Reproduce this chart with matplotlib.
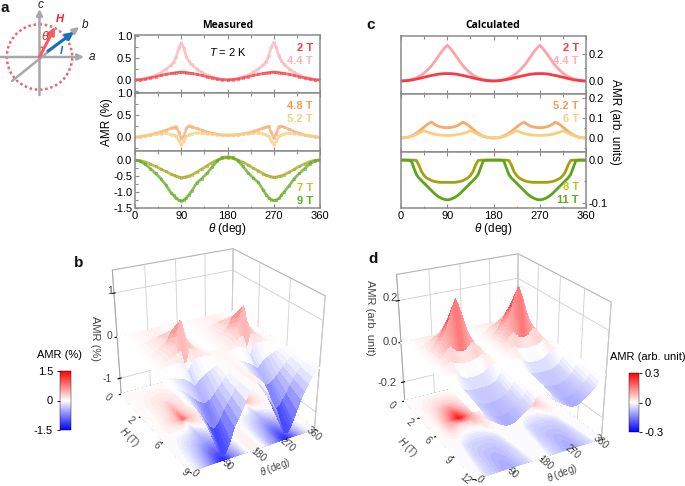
import numpy as np
import matplotlib
matplotlib.use("Agg")
import matplotlib.pyplot as plt
from matplotlib.patches import Circle, Arc
from matplotlib.cm import ScalarMappable
from matplotlib.colors import Normalize
from mpl_toolkits.mplot3d import Axes3D

plt.rcParams['font.family'] = ['Liberation Sans', 'DejaVu Sans']
plt.rcParams['mathtext.fontset'] = 'custom'
plt.rcParams['mathtext.rm'] = 'Liberation Sans'
plt.rcParams['mathtext.it'] = 'Liberation Sans:italic'
plt.rcParams['grid.color'] = '#cfcfcf'
plt.rcParams['grid.linewidth'] = 0.6

# measured curves
theta_m = [0,10,20,30,40,50,60,70,75,80,85,90,95,100,105,110,120,130,140,150,160,170,180,
           190,200,210,220,230,240,250,255,260,265,270,275,280,285,290,300,310,320,330,340,350,360]
m_2T = [0,.005,.02,.045,.07,.10,.125,.145,.155,.165,.17,.175,.17,.165,.155,.145,.125,.10,.07,.045,.02,.005,0,
        .005,.02,.045,.07,.10,.125,.145,.155,.165,.17,.175,.17,.165,.155,.145,.125,.10,.07,.045,.02,.005,0]
m_33T = [0,.003,.02,.04,.07,.11,.15,.21,.25,.31,.40,.46,.40,.31,.25,.22,.16,.11,.07,.04,.02,.005,0,
         .005,.02,.04,.07,.11,.16,.22,.26,.32,.41,.47,.41,.32,.26,.22,.16,.11,.07,.04,.02,.005,0]
m_44T = [-.01,0,.03,.06,.10,.16,.24,.33,.40,.52,.72,.84,.72,.52,.42,.35,.25,.17,.11,.07,.03,.01,0,
         .01,.03,.07,.11,.17,.25,.34,.41,.54,.74,.85,.74,.54,.43,.35,.25,.17,.11,.06,.03,0,-.01]
m_48T = [0,.015,.035,.06,.09,.12,.16,.20,.22,.24,.12,-.03,.03,.20,.26,.24,.20,.16,.12,.09,.07,.05,.05,
         .05,.06,.08,.10,.13,.17,.21,.23,.25,.12,-.02,.08,.24,.25,.23,.18,.13,.09,.05,.03,.01,0]
m_52T = [0,.02,.04,.06,.07,.085,.09,.06,.05,.02,-.08,-.17,-.09,.02,.06,.08,.10,.09,.08,.07,.06,.05,.05,
         .05,.06,.07,.08,.09,.10,.08,.06,.02,-.08,-.17,-.09,.02,.06,.08,.09,.08,.07,.05,.04,.02,0]
m_6T = [0,-.005,-.01,-.04,-.07,-.10,-.13,-.19,-.22,-.26,-.31,-.36,-.31,-.26,-.23,-.20,-.14,-.09,-.05,-.01,.02,.05,.06,
        .05,.02,-.01,-.05,-.09,-.14,-.19,-.22,-.26,-.31,-.36,-.31,-.26,-.22,-.19,-.13,-.09,-.06,-.03,-.01,-.005,0]
m_7T = [0,-.02,-.06,-.13,-.20,-.28,-.36,-.44,-.47,-.50,-.53,-.55,-.54,-.52,-.50,-.47,-.38,-.28,-.18,-.08,0,.05,.07,
        .05,0,-.07,-.16,-.25,-.34,-.43,-.47,-.50,-.52,-.54,-.53,-.51,-.49,-.46,-.38,-.29,-.20,-.12,-.05,-.01,0]
m_8T = [0,-.03,-.10,-.20,-.31,-.43,-.57,-.73,-.79,-.85,-.89,-.92,-.90,-.85,-.79,-.72,-.55,-.43,-.30,-.15,-.02,.07,.09,
        .07,-.01,-.13,-.28,-.40,-.52,-.69,-.77,-.84,-.88,-.90,-.89,-.85,-.79,-.73,-.59,-.44,-.31,-.20,-.09,-.02,0]
m_9T = [0,-.04,-.14,-.27,-.42,-.58,-.78,-1.02,-1.10,-1.19,-1.25,-1.28,-1.25,-1.18,-1.08,-.98,-.72,-.58,-.42,-.22,-.03,.08,.10,
        .08,-.02,-.20,-.40,-.56,-.70,-.95,-1.08,-1.18,-1.24,-1.26,-1.25,-1.20,-1.10,-1.00,-.80,-.58,-.42,-.27,-.12,-.03,0]
m_0T = [0]*45
fields_b = [0,2,3.3,4.4,4.8,5.2,6,7,8,9]

# calculated curves, every 5 deg
theta_c = [i*5 for i in range(73)]
c_0T = [0]*73
c_2T = [0,0,.002,.004,.006,.010,.014,.018,.023,.028,.032,.037,.041,.045,.049,.052,.054,.055,.055,
        .055,.054,.052,.049,.045,.041,.037,.032,.028,.023,.018,.014,.010,.006,.004,.002,0,0,
        0,.002,.004,.006,.010,.014,.018,.023,.028,.032,.037,.041,.045,.049,.052,.054,.055,.055,
        .055,.054,.052,.049,.045,.041,.037,.032,.028,.023,.018,.014,.010,.006,.004,.002,0,0]
c_32T = [0,.001,.002,.004,.008,.012,.018,.025,.033,.042,.052,.063,.075,.088,.102,.117,.131,.143,.152,
         .143,.131,.117,.102,.088,.075,.063,.052,.042,.033,.025,.018,.012,.008,.004,.002,.001,0,
         .001,.002,.004,.008,.012,.018,.025,.033,.042,.052,.063,.075,.088,.102,.117,.131,.143,.152,
         .143,.131,.117,.102,.088,.075,.063,.052,.042,.033,.025,.018,.012,.008,.004,.002,.001,0]
c_44T = [0,.001,.003,.006,.010,.016,.024,.033,.045,.059,.076,.095,.117,.142,.170,.198,.224,.248,.268,
         .248,.224,.198,.170,.142,.117,.095,.076,.059,.045,.033,.024,.016,.010,.006,.003,.001,0,
         .001,.003,.006,.010,.016,.024,.033,.045,.059,.076,.095,.117,.142,.170,.198,.224,.248,.268,
         .248,.224,.198,.170,.142,.117,.095,.076,.059,.045,.033,.024,.016,.010,.006,.003,.001,0]
c_52T = [0,.001,.002,.005,.010,.016,.024,.033,.044,.055,.065,.074,.079,.069,.062,.057,.054,.052,.052,
         .052,.054,.057,.062,.069,.079,.074,.065,.055,.044,.033,.024,.016,.010,.005,.002,.001,0,
         .001,.002,.005,.010,.016,.024,.033,.044,.055,.065,.074,.079,.069,.062,.057,.054,.052,.052,
         .052,.054,.057,.062,.069,.079,.074,.065,.055,.044,.033,.024,.016,.010,.005,.002,.001,0]
c_6T = [0,.001,.002,.004,.008,.012,.018,.024,.030,.036,.031,.026,.022,.019,.017,.015,.014,.013,.013,
        .013,.014,.015,.017,.019,.022,.026,.031,.036,.030,.024,.018,.012,.008,.004,.002,.001,0,
        .001,.002,.004,.008,.012,.018,.024,.030,.036,.031,.026,.022,.019,.017,.015,.014,.013,.013,
        .013,.014,.015,.017,.019,.022,.026,.031,.036,.030,.024,.018,.012,.008,.004,.002,.001,0]
c_7T = [0,0,.001,.002,.003,.005,.007,.009,.010,.006,-.002,-.010,-.016,-.020,-.023,-.025,-.026,-.027,-.027,
        -.027,-.026,-.025,-.023,-.020,-.016,-.010,-.002,.006,.010,.009,.007,.005,.003,.002,.001,0,0,
        0,.001,.002,.003,.005,.007,.009,.010,.006,-.002,-.010,-.016,-.020,-.023,-.025,-.026,-.027,-.027,
        -.027,-.026,-.025,-.023,-.020,-.016,-.010,-.002,.006,.010,.009,.007,.005,.003,.002,.001,0,0]
c_8T = [0,0,0,0,0,0,-.001,-.012,-.027,-.036,-.042,-.045,-.048,-.050,-.051,-.052,-.052,-.052,-.052,
        -.052,-.052,-.052,-.051,-.050,-.048,-.045,-.042,-.036,-.027,-.012,-.001,0,0,0,0,0,0,
        0,0,0,0,0,-.001,-.012,-.027,-.036,-.042,-.045,-.048,-.050,-.051,-.052,-.052,-.052,-.052,
        -.052,-.052,-.052,-.051,-.050,-.048,-.045,-.042,-.036,-.027,-.012,-.001,0,0,0,0,0,0]
c_95T = [0,0,0,0,0,-.002,-.020,-.036,-.045,-.052,-.058,-.062,-.066,-.070,-.073,-.075,-.076,-.077,-.077,
         -.077,-.076,-.075,-.073,-.070,-.066,-.062,-.058,-.052,-.045,-.036,-.020,-.002,0,0,0,0,0,
         0,0,0,0,-.002,-.020,-.036,-.045,-.052,-.058,-.062,-.066,-.070,-.073,-.075,-.076,-.077,-.077,
         -.077,-.076,-.075,-.073,-.070,-.066,-.062,-.058,-.052,-.045,-.036,-.020,-.002,0,0,0,0,0]
c_11T = [0,0,0,0,-.002,-.018,-.034,-.042,-.048,-.054,-.060,-.066,-.072,-.078,-.083,-.087,-.090,-.092,-.093,
         -.092,-.090,-.087,-.083,-.078,-.072,-.066,-.060,-.054,-.048,-.042,-.034,-.018,-.002,0,0,0,0,
         0,0,0,-.002,-.018,-.034,-.042,-.048,-.054,-.060,-.066,-.072,-.078,-.083,-.087,-.090,-.092,-.093,
         -.092,-.090,-.087,-.083,-.078,-.072,-.066,-.060,-.054,-.048,-.042,-.034,-.018,-.002,0,0,0,0]
c_12T = [0,0,0,-.001,-.012,-.030,-.040,-.047,-.053,-.059,-.065,-.071,-.077,-.083,-.088,-.093,-.097,-.099,-.100,
         -.099,-.097,-.093,-.088,-.083,-.077,-.071,-.065,-.059,-.053,-.047,-.040,-.030,-.012,-.001,0,0,0,
         0,0,-.001,-.012,-.030,-.040,-.047,-.053,-.059,-.065,-.071,-.077,-.083,-.088,-.093,-.097,-.099,-.100,
         -.099,-.097,-.093,-.088,-.083,-.077,-.071,-.065,-.059,-.053,-.047,-.040,-.030,-.012,-.001,0,0,0]
fields_d = [0,2,3.2,4.4,5.2,6,7,8,9.5,11,12]

theta_ticks = [0,90,180,270,360]
theta_minor = [45,135,225,315]

def rect(l, t, r, b):
    return [l/685, 1-b/486, (r-l)/685, (b-t)/486]

def style(ax, ylim, yticks, labels, yminor, right=False, bottom=False):
    ax.set_xlim(0, 360)
    ax.set_ylim(*ylim)
    ax.set_xticks(theta_ticks)
    ax.set_xticks(theta_minor, minor=True)
    ax.set_yticks(yticks)
    ax.set_yticks(yminor, minor=True)
    ax.set_yticklabels(labels)
    ax.tick_params(which='both', direction='in', width=0.8, color='#8a8a8a', labelsize=8, pad=2,
                   labelbottom=bottom, right=right, left=not right, labelleft=not right, labelright=right, top=True)
    ax.tick_params(which='major', length=3)
    ax.tick_params(which='minor', length=1.8)
    for s in ax.spines.values():
        s.set_color('#8a8a8a')
        s.set_linewidth(1.1)
    if bottom:
        ax.set_xlabel(r'$\theta$ (deg)', fontsize=8.5, labelpad=0)

def meas(ax, y, col):
    ax.plot(theta_m, y, '-', color=col, lw=2.0, alpha=0.75)
    ax.plot(theta_m, y, 's', color=col, ms=1.7, mfc='none', mew=0.4)

fig = plt.figure(figsize=(6.85, 4.86), dpi=100)

# measured panels
a1 = fig.add_axes(rect(135, 35, 320, 93))
meas(a1, m_44T, '#fdb4b4')
meas(a1, m_2T, '#f8404a')
style(a1, (-0.3, 1.02), [0, .5, 1], ['0.0', '0.5', '1.0'], [-.25, .25, .75])
a2 = fig.add_axes(rect(135, 93, 320, 151))
meas(a2, m_48T, '#f5ad70')
meas(a2, m_52T, '#f8d088')
style(a2, (-0.31, 1.0), [0, .5, 1], ['0.0', '0.5', '1.0'], [-.25, .25, .75])
a3 = fig.add_axes(rect(135, 151, 320, 208))
meas(a3, m_7T, '#a8a820')
meas(a3, m_9T, '#62aa24')
style(a3, (-1.5, 0.28), [-1.5, -1, -.5, 0], ['-1.5', '-1.0', '-0.5', '0.0'], [-1.25, -.75, -.25], bottom=True)

# calculated panels
c1 = fig.add_axes(rect(401, 36, 586, 94))
c1.plot(theta_c, c_44T, color='#fda4a6', lw=2)
c1.plot(theta_c, c_2T, color='#f83a44', lw=2)
style(c1, (-0.098, 0.337), [0, .2], ['0.0', '0.2'], [.1], right=True)
c2 = fig.add_axes(rect(401, 94, 586, 152))
c2.plot(theta_c, c_52T, color='#f5ab6c', lw=2)
c2.plot(theta_c, c_6T, color='#f6cf80', lw=2)
style(c2, (-0.07, 0.22), [0, .1, .2], ['0.0', '0.1', '0.2'], [-.05, .05, .15], right=True)
c3 = fig.add_axes(rect(401, 152, 586, 208))
c3.plot(theta_c, c_8T, color='#a4a010', lw=2)
c3.plot(theta_c, c_11T, color='#5aa61a', lw=2)
style(c3, (-0.112, 0.019), [-.1, 0], ['-0.1', '0.0'], [-.05], right=True, bottom=True)

# 3d surfaces
def surf(pos, th, fields, rows, zlim, zticks, hticks, vmax, view, aspect):
    ax = fig.add_axes(pos, projection='3d', computed_zorder=False)
    ax.patch.set_alpha(0)
    T, H = np.meshgrid(th, fields)
    Z = np.array(rows)
    ax.contourf(T, H, Z, levels=np.linspace(-vmax, vmax, 61), cmap='bwr', zdir='z', offset=zlim[0], zorder=1)
    ax.plot_surface(T, H, Z, cmap='bwr', vmin=-vmax, vmax=vmax, rstride=1, cstride=1, linewidth=0,
                    antialiased=False, shade=False, zorder=2)
    ax.set_xlim(0, 360)
    ax.set_ylim(max(fields), 0)
    ax.set_zlim(*zlim)
    ax.set_xticks(theta_ticks)
    ax.set_yticks(hticks)
    ax.set_zticks(zticks)
    ax.set_xticklabels([])
    ax.set_yticklabels([])
    ax.set_zticklabels([])
    ax.view_init(elev=view[1], azim=view[0])
    ax.set_box_aspect(aspect, zoom=view[3])
    ax.set_proj_type('persp', focal_length=view[2])
    for ax_ in (ax.xaxis, ax.yaxis, ax.zaxis):
        ax_.set_pane_color((1, 1, 1, 1))
        ax_.pane.set_edgecolor('#b4b4b4')
        ax_.pane.set_linewidth(0.8)
        ax_.line.set_color('#a8a8a8')
        ax_.line.set_linewidth(0.8)
        for t in ax_.get_major_ticks():
            t.tick1line.set_visible(False)
            t.tick2line.set_visible(False)
    return ax

rows_b = [m_0T, m_2T, m_33T, m_44T, m_48T, m_52T, m_6T, m_7T, m_8T, m_9T]
rows_d = [c_0T, c_2T, c_32T, c_44T, c_52T, c_6T, c_7T, c_8T, c_95T, c_11T, c_12T]
surf(rect(80, 223.1, 340, 483.1), theta_m, fields_b, rows_b, (-1.4, 1.5), [-1, 0, 1], [0, 3, 6, 9], 1.5,
     (-119.74, 26.3, 0.47, 0.96), (136.58, 155.34, 138.28))
surf(rect(365, 229.6, 625, 489.6), theta_c, fields_d, rows_d, (-0.3, 0.32), [-.2, 0, .2], [0, 3, 6, 9, 12], 0.3,
     (-119.07, 25.49, 0.51, 0.98), (136.46, 160.25, 139.79))

# colorbars
cb1 = fig.add_axes(rect(60, 371, 71, 430))
cb = fig.colorbar(ScalarMappable(Normalize(-1.5, 1.5), 'bwr'), cax=cb1, ticks=[-1.5, 0, 1.5])
cb.ax.set_yticklabels(['-1.5', '0', '1.5'])
cb.ax.yaxis.set_ticks_position('left')
cb.ax.tick_params(labelsize=8, length=2, width=0.6, pad=3)
cb.outline.set_linewidth(0.3)
cb2 = fig.add_axes(rect(629, 373, 639, 432))
cb = fig.colorbar(ScalarMappable(Normalize(-0.3, 0.3), 'bwr'), cax=cb2, ticks=[-.3, 0, .3])
cb.ax.set_yticklabels(['-0.3', '0', '0.3'])
cb.ax.tick_params(labelsize=8, length=2, width=0.6, pad=2)
cb.outline.set_linewidth(0.3)

# pixel overlay for schematic and text
ov = fig.add_axes([0, 0, 1, 1], zorder=10)
ov.set_xlim(0, 685)
ov.set_ylim(486, 0)
ov.axis('off')

ov.add_patch(Circle((39.5, 57), 32.7, fill=False, ec='#f2606a', lw=1.8, ls=(0, (1, 1.1))))
for p0, p1 in [((39.5, 95), (39.5, 9)), ((0, 57), (84, 57)), ((12, 81), (79, 27))]:
    ov.annotate('', xy=p1, xytext=p0, arrowprops=dict(arrowstyle='-|>', color='#a8a8a8', lw=1.8, shrinkA=0, shrinkB=0, mutation_scale=9))
ov.annotate('', xy=(74, 32), xytext=(48, 51), arrowprops=dict(arrowstyle='-|>', color='#1470c0', lw=2.2, shrinkA=0, shrinkB=0, mutation_scale=10))
ov.annotate('', xy=(55, 27), xytext=(39.5, 57), arrowprops=dict(arrowstyle='-|>', color='#f85a64', lw=2.2, shrinkA=0, shrinkB=0, mutation_scale=10))
ov.add_patch(Arc((39.5, 57), 20, 20, theta1=-90, theta2=-62, color='#f04050', lw=1))

def txt(x, y, s, **kw):
    kw.setdefault('ha', 'center')
    kw.setdefault('va', 'center')
    kw.setdefault('fontsize', 8)
    ov.text(x, y, s, **kw)

txt(41, 5, 'c', style='italic', color='#222222', fontsize=8.5)
txt(92, 57, 'a', style='italic', color='#222222', fontsize=8.5)
txt(85, 25, 'b', style='italic', color='#222222', fontsize=8.5)
txt(60, 19, 'H', style='italic', weight='bold', color='#f02030', fontsize=8)
txt(61.5, 51, 'I', style='italic', weight='bold', color='#1470c0', fontsize=8)
txt(45, 37, r'$\theta$', color='#f02030', fontsize=9)

for x, y, s in [(4.5, 7.5, 'a'), (79, 263, 'b'), (371, 25, 'c'), (373, 259, 'd')]:
    txt(x, y, s, weight='bold', fontsize=11, color='#111111')
txt(228, 25, 'Measured', family='Open Sans', weight='bold', fontsize=7.5)
txt(493, 26, 'Calculated', family='Open Sans', weight='bold', fontsize=7.5)
txt(228, 52, r'$T$ = 2 K', fontsize=8)
txt(107, 122, 'AMR (%)', rotation=90, fontsize=8.5)
txt(615, 122, 'AMR (arb. units)', rotation=-90, fontsize=8.5)

for y, s, col in [(48, '2 T', '#f83a44'), (61, '4.4 T', '#fdb4b4'), (106, '4.8 T', '#f2a050'),
                  (119, '5.2 T', '#f8cc88'), (188, '7 T', '#c8c020'), (201, '9 T', '#58b020')]:
    txt(313, y, s, ha='right', weight='bold', color=col)
for y, s, col in [(48, '2 T', '#f83a44'), (61, '4.4 T', '#fdb4b4'), (106, '5.2 T', '#f2a050'),
                  (119, '6 T', '#f8cc88'), (187, '8 T', '#c8c020'), (200, '11 T', '#58b020')]:
    txt(579, y, s, ha='right', weight='bold', color=col)

# 3d labels, panel b
gr = '#444444'
for x, y, s in [(110, 291, '1'), (110, 336, '0'), (107, 379, '-1')]:
    txt(x, y, s, color=gr, fontsize=7.5)
for x, y, s in [(108, 397, '0'), (131, 420, '2'), (157, 445, '6'), (185, 472, '9')]:
    txt(x, y, s, color=gr, fontsize=7, rotation=-40)
for x, y, s in [(195, 473, '0'), (228, 465, '90'), (258, 455, '180'), (288, 445, '270'), (314, 434, '360')]:
    txt(x, y, s, color=gr, fontsize=7, rotation=-40)
txt(275, 467, r'$\theta$ (deg)', color=gr, fontsize=7, rotation=22)
txt(129, 437, r'$H$ (T)', color=gr, fontsize=7, rotation=-45)
txt(95, 338, 'AMR (%)', color=gr, fontsize=8, rotation=-90)
txt(60, 355, 'AMR (%)', fontsize=8)

# 3d labels, panel d
for x, y, s in [(390, 298, '0.2'), (390, 342, '0.0'), (387, 383, '-0.2')]:
    txt(x, y, s, color=gr, fontsize=8)
for x, y, s in [(392, 405, '0'), (410, 422, '2'), (428, 440, '6'), (448, 460, '9'), (465, 479, '12')]:
    txt(x, y, s, color=gr, fontsize=7, rotation=-40)
for x, y, s in [(480, 479, '0'), (513, 473, '90'), (545, 463, '180'), (573, 452, '270'), (601, 442, '360')]:
    txt(x, y, s, color=gr, fontsize=7, rotation=-40)
txt(562, 473, r'$\theta$ (deg)', color=gr, fontsize=7, rotation=22)
txt(407, 447, r'$H$ (T)', color=gr, fontsize=7, rotation=-45)
txt(370, 318, 'AMR (arb. unit)', color=gr, fontsize=8, rotation=-90)
txt(648, 357, 'AMR (arb. unit)', fontsize=8)

fig.savefig('out.png', dpi=100)
